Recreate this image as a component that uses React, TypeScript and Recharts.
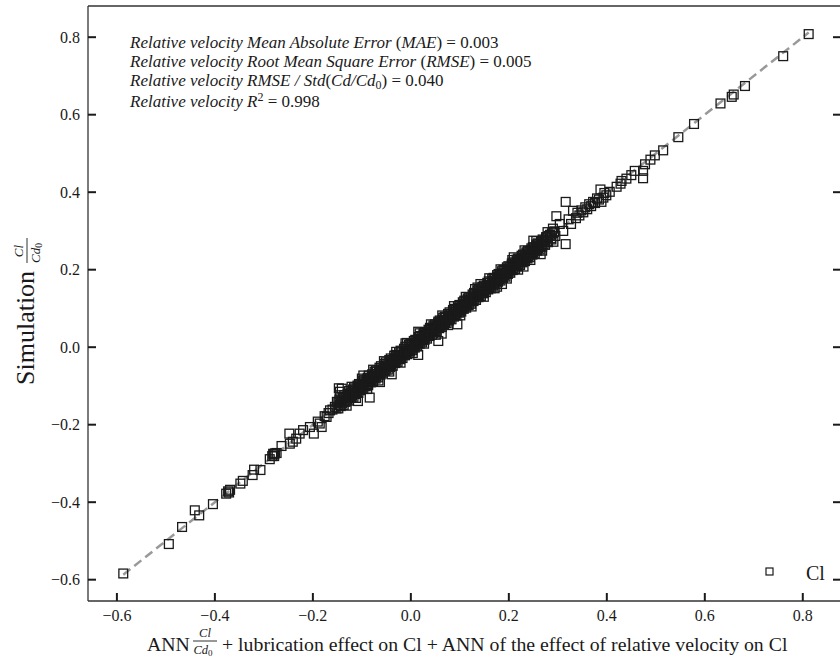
import React from 'react';
import { ScatterChart, Scatter, XAxis, YAxis, ReferenceLine } from 'recharts';

const SERIF = '"Liberation Serif", "Times New Roman", Times, serif';
const INK = '#1a1a1a';

// axis setup
const xTicks = [-0.6, -0.4, -0.2, 0.0, 0.2, 0.4, 0.6, 0.8];
const yTicks = [-0.6, -0.4, -0.2, 0.0, 0.2, 0.4, 0.6, 0.8];
const xDomain = [-0.659, 0.878];
const yDomain = [-0.655, 0.8805];

// ends of the dashed y = x reference
const identityEnds = [-0.587, 0.812];

// sparse points below the dense band: [ANN, simulation]
const lowerTail: [number, number][] = [
  [-0.587, -0.584], [-0.494, -0.508], [-0.467, -0.464], [-0.441, -0.421], [-0.432, -0.434],
  [-0.404, -0.405], [-0.377, -0.378], [-0.373, -0.372], [-0.369, -0.368], [-0.371, -0.375],
  [-0.348, -0.352], [-0.343, -0.345], [-0.323, -0.330], [-0.320, -0.316], [-0.307, -0.317],
  [-0.288, -0.289], [-0.283, -0.281], [-0.280, -0.277], [-0.277, -0.274], [-0.279, -0.281],
  [-0.274, -0.273], [-0.281, -0.275], [-0.264, -0.255], [-0.248, -0.223], [-0.247, -0.249],
  [-0.241, -0.244], [-0.234, -0.236], [-0.227, -0.223], [-0.220, -0.214], [-0.206, -0.206],
  [-0.198, -0.223], [-0.190, -0.192], [-0.186, -0.197], [-0.182, -0.206], [-0.176, -0.178],
  [-0.172, -0.180], [-0.168, -0.170], [-0.165, -0.163], [-0.160, -0.161], [-0.155, -0.154],
  [-0.152, -0.158], [-0.147, -0.106], [-0.141, -0.107], [-0.145, -0.115],
];

// dense band, upper edge
const bandUpper: [number, number][] = [
  [-0.151, -0.141], [-0.146, -0.135], [-0.139, -0.130], [-0.136, -0.124], [-0.129, -0.121],
  [-0.126, -0.113], [-0.118, -0.109], [-0.116, -0.104], [-0.109, -0.099], [-0.106, -0.095],
  [-0.099, -0.088], [-0.096, -0.085], [-0.088, -0.079], [-0.086, -0.073], [-0.079, -0.070],
  [-0.074, -0.063], [-0.071, -0.060], [-0.064, -0.053], [-0.061, -0.049], [-0.054, -0.043],
  [-0.051, -0.039], [-0.044, -0.033], [-0.041, -0.029], [-0.034, -0.022], [-0.031, -0.020],
  [-0.024, -0.013], [-0.021, -0.009], [-0.014, -0.004], [-0.011, 0.001], [-0.004, 0.006],
  [-0.001, 0.009], [0.006, 0.016], [0.009, 0.019], [0.016, 0.026], [0.019, 0.029],
  [0.026, 0.036], [0.029, 0.039], [0.036, 0.045], [0.039, 0.050], [0.046, 0.056],
  [0.049, 0.059], [0.056, 0.066], [0.059, 0.069], [0.066, 0.076], [0.069, 0.079],
  [0.076, 0.086], [0.079, 0.090], [0.086, 0.096], [0.089, 0.099], [0.096, 0.106],
  [0.099, 0.109], [0.106, 0.116], [0.109, 0.120], [0.116, 0.126], [0.119, 0.129],
  [0.126, 0.136], [0.129, 0.140], [0.136, 0.146], [0.139, 0.149], [0.146, 0.156],
  [0.149, 0.159], [0.156, 0.166], [0.159, 0.170], [0.166, 0.176], [0.169, 0.179],
  [0.176, 0.186], [0.179, 0.189], [0.186, 0.196], [0.189, 0.200], [0.196, 0.206],
  [0.199, 0.209], [0.206, 0.216], [0.209, 0.219], [0.216, 0.226], [0.219, 0.229],
  [0.226, 0.236], [0.229, 0.239], [0.236, 0.245], [0.239, 0.249], [0.246, 0.255],
  [0.249, 0.258], [0.256, 0.265], [0.259, 0.268], [0.266, 0.274], [0.269, 0.278],
  [0.276, 0.284], [0.281, 0.287], [0.288, 0.294], [0.293, 0.299],
];

// dense band, just above the middle
const bandUpperInner: [number, number][] = [
  [-0.148, -0.143], [-0.142, -0.138], [-0.138, -0.132], [-0.133, -0.129], [-0.128, -0.123],
  [-0.123, -0.119], [-0.119, -0.113], [-0.114, -0.109], [-0.108, -0.104], [-0.104, -0.098],
  [-0.098, -0.094], [-0.093, -0.089], [-0.089, -0.083], [-0.084, -0.079], [-0.078, -0.074],
  [-0.073, -0.069], [-0.069, -0.063], [-0.063, -0.059], [-0.058, -0.054], [-0.054, -0.048],
  [-0.048, -0.044], [-0.043, -0.039], [-0.039, -0.033], [-0.034, -0.029], [-0.028, -0.024],
  [-0.023, -0.019], [-0.019, -0.013], [-0.013, -0.009], [-0.008, -0.004], [-0.004, 0.002],
  [0.002, 0.006], [0.007, 0.011], [0.011, 0.017], [0.017, 0.021], [0.022, 0.026],
  [0.026, 0.032], [0.032, 0.036], [0.037, 0.041], [0.041, 0.047], [0.047, 0.051],
  [0.052, 0.056], [0.056, 0.062], [0.062, 0.066], [0.067, 0.071], [0.071, 0.077],
  [0.077, 0.081], [0.082, 0.086], [0.086, 0.092], [0.092, 0.096], [0.097, 0.101],
  [0.101, 0.107], [0.107, 0.111], [0.112, 0.116], [0.116, 0.122], [0.122, 0.126],
  [0.127, 0.131], [0.131, 0.137], [0.137, 0.141], [0.142, 0.146], [0.146, 0.152],
  [0.152, 0.156], [0.157, 0.161], [0.161, 0.167], [0.167, 0.171], [0.172, 0.176],
  [0.176, 0.182], [0.182, 0.186], [0.187, 0.191], [0.191, 0.197], [0.197, 0.201],
  [0.202, 0.206], [0.206, 0.212], [0.212, 0.216], [0.217, 0.221], [0.221, 0.227],
  [0.227, 0.231], [0.232, 0.236], [0.236, 0.242], [0.242, 0.246], [0.247, 0.251],
  [0.251, 0.257], [0.257, 0.261], [0.262, 0.266], [0.266, 0.272], [0.272, 0.276],
  [0.278, 0.283], [0.284, 0.290],
];

// dense band, middle
const bandMiddle: [number, number][] = [
  [-0.124, -0.126], [-0.118, -0.117], [-0.111, -0.113], [-0.104, -0.103], [-0.098, -0.099],
  [-0.091, -0.090], [-0.085, -0.086], [-0.078, -0.077], [-0.072, -0.074], [-0.065, -0.064],
  [-0.059, -0.061], [-0.052, -0.051], [-0.046, -0.048], [-0.039, -0.038], [-0.033, -0.035],
  [-0.026, -0.025], [-0.020, -0.022], [-0.013, -0.012], [-0.007, -0.009], [0.000, 0.001],
  [0.007, 0.005], [0.013, 0.014], [0.020, 0.018], [0.026, 0.027], [0.033, 0.031],
  [0.039, 0.040], [0.046, 0.044], [0.052, 0.053], [0.059, 0.057], [0.065, 0.066],
  [0.072, 0.070], [0.078, 0.079], [0.085, 0.083], [0.091, 0.092], [0.098, 0.096],
  [0.104, 0.105], [0.111, 0.109], [0.117, 0.118], [0.124, 0.122], [0.130, 0.131],
  [0.137, 0.135], [0.143, 0.144], [0.150, 0.148], [0.156, 0.157], [0.163, 0.161],
  [0.169, 0.170], [0.176, 0.174], [0.182, 0.183], [0.189, 0.187], [0.195, 0.196],
  [0.202, 0.200], [0.208, 0.209], [0.215, 0.213], [0.221, 0.222], [0.228, 0.226],
  [0.234, 0.235], [0.241, 0.239], [0.247, 0.248], [0.254, 0.252], [0.260, 0.261],
  [0.267, 0.265],
];

// dense band, just below the middle
const bandLowerInner: [number, number][] = [
  [-0.145, -0.149], [-0.140, -0.145], [-0.135, -0.139], [-0.130, -0.135], [-0.125, -0.129],
  [-0.120, -0.125], [-0.115, -0.119], [-0.110, -0.115], [-0.105, -0.109], [-0.100, -0.105],
  [-0.095, -0.099], [-0.090, -0.095], [-0.085, -0.089], [-0.080, -0.085], [-0.075, -0.079],
  [-0.070, -0.075], [-0.065, -0.069], [-0.060, -0.065], [-0.055, -0.059], [-0.050, -0.055],
  [-0.045, -0.049], [-0.040, -0.045], [-0.035, -0.039], [-0.030, -0.035], [-0.025, -0.029],
  [-0.020, -0.025], [-0.015, -0.019], [-0.010, -0.015], [-0.005, -0.009], [0.000, -0.005],
  [0.005, 0.001], [0.010, 0.005], [0.015, 0.011], [0.020, 0.015], [0.025, 0.021],
  [0.030, 0.025], [0.035, 0.031], [0.040, 0.035], [0.045, 0.041], [0.050, 0.045],
  [0.055, 0.051], [0.060, 0.055], [0.065, 0.061], [0.070, 0.065], [0.075, 0.071],
  [0.080, 0.075], [0.085, 0.081], [0.090, 0.085], [0.095, 0.091], [0.100, 0.095],
  [0.105, 0.101], [0.110, 0.105], [0.115, 0.111], [0.120, 0.115], [0.125, 0.121],
  [0.130, 0.125], [0.135, 0.131], [0.140, 0.135], [0.145, 0.141], [0.150, 0.145],
  [0.155, 0.151], [0.160, 0.155], [0.165, 0.161], [0.170, 0.165], [0.175, 0.171],
  [0.180, 0.175], [0.185, 0.181], [0.190, 0.185], [0.195, 0.191], [0.200, 0.195],
  [0.205, 0.201], [0.210, 0.205], [0.215, 0.211], [0.220, 0.215], [0.225, 0.221],
  [0.230, 0.225], [0.235, 0.231], [0.240, 0.235], [0.245, 0.241], [0.250, 0.245],
  [0.255, 0.251], [0.260, 0.255], [0.265, 0.261], [0.271, 0.266], [0.278, 0.273],
  [0.286, 0.281],
];

// dense band, lower edge
const bandLower: [number, number][] = [
  [-0.148, -0.158], [-0.143, -0.152], [-0.137, -0.149], [-0.133, -0.141], [-0.127, -0.138],
  [-0.122, -0.131], [-0.117, -0.128], [-0.112, -0.121], [-0.107, -0.118], [-0.102, -0.111],
  [-0.097, -0.108], [-0.092, -0.101], [-0.087, -0.098], [-0.082, -0.091], [-0.077, -0.088],
  [-0.072, -0.081], [-0.067, -0.078], [-0.062, -0.071], [-0.057, -0.068], [-0.052, -0.061],
  [-0.047, -0.058], [-0.042, -0.051], [-0.037, -0.048], [-0.032, -0.041], [-0.027, -0.038],
  [-0.022, -0.031], [-0.017, -0.028], [-0.012, -0.021], [-0.007, -0.018], [-0.002, -0.011],
  [0.003, -0.008], [0.008, -0.001], [0.013, 0.002], [0.018, 0.009], [0.023, 0.012],
  [0.028, 0.019], [0.033, 0.022], [0.038, 0.029], [0.043, 0.032], [0.048, 0.039],
  [0.053, 0.042], [0.058, 0.049], [0.063, 0.052], [0.068, 0.059], [0.073, 0.062],
  [0.078, 0.069], [0.083, 0.072], [0.088, 0.079], [0.093, 0.082], [0.098, 0.089],
  [0.103, 0.092], [0.108, 0.099], [0.113, 0.102], [0.118, 0.109], [0.123, 0.112],
  [0.128, 0.119], [0.133, 0.122], [0.138, 0.129], [0.143, 0.132], [0.148, 0.139],
  [0.153, 0.142], [0.158, 0.149], [0.163, 0.152], [0.168, 0.159], [0.173, 0.162],
  [0.178, 0.169], [0.183, 0.172], [0.188, 0.179], [0.193, 0.182], [0.198, 0.189],
  [0.203, 0.192], [0.208, 0.199], [0.213, 0.202], [0.218, 0.209], [0.223, 0.212],
  [0.228, 0.219], [0.233, 0.222], [0.238, 0.229], [0.243, 0.232], [0.248, 0.239],
  [0.253, 0.242], [0.258, 0.249], [0.263, 0.252], [0.268, 0.259], [0.274, 0.264],
  [0.280, 0.271], [0.287, 0.278], [0.295, 0.287],
];

// loose points along both edges of the band
const bandFringe: [number, number][] = [
  [-0.144, -0.124], [-0.131, -0.151], [-0.121, -0.102], [-0.112, -0.131], [-0.100, -0.081],
  [-0.089, -0.108], [-0.077, -0.058], [-0.066, -0.086], [-0.055, -0.036], [-0.044, -0.063],
  [-0.030, -0.012], [-0.021, -0.040], [-0.008, 0.011], [0.004, -0.015], [0.018, 0.036],
  [0.027, 0.009], [0.041, 0.059], [0.051, 0.032], [0.064, 0.082], [0.076, 0.057],
  [0.088, 0.106], [0.101, 0.082], [0.112, 0.130], [0.124, 0.105], [0.136, 0.154],
  [0.149, 0.130], [0.160, 0.178], [0.171, 0.152], [0.183, 0.201], [0.196, 0.177],
  [0.207, 0.225], [0.219, 0.200], [0.232, 0.250], [0.244, 0.225], [0.256, 0.274],
  [0.268, 0.249], [0.279, 0.297], [0.291, 0.272], [0.304, 0.318], [0.311, 0.300],
  [0.322, 0.330], [0.327, 0.318],
];

// scattered points off the band
const bandOutliers: [number, number][] = [
  [0.095, 0.059], [0.063, 0.035], [0.056, 0.016], [0.015, 0.040], [0.015, -0.020],
  [-0.011, 0.010], [-0.039, -0.070], [-0.063, -0.090], [-0.097, -0.073], [-0.084, -0.130],
  [-0.108, -0.139], [0.176, 0.156], [0.186, 0.163], [0.131, 0.150], [0.142, 0.163],
  [0.250, 0.275], [0.265, 0.240], [0.210, 0.232], [0.230, 0.208],
];

// sparse points above the dense band
const upperTail: [number, number][] = [
  [0.812, 0.808], [0.760, 0.751], [0.682, 0.674], [0.659, 0.652], [0.655, 0.646],
  [0.632, 0.629], [0.578, 0.576], [0.546, 0.542], [0.515, 0.508], [0.498, 0.495],
  [0.489, 0.484], [0.478, 0.472], [0.474, 0.455], [0.474, 0.436], [0.457, 0.455],
  [0.450, 0.444], [0.440, 0.435], [0.430, 0.429], [0.428, 0.422], [0.420, 0.414],
  [0.406, 0.401], [0.399, 0.392], [0.393, 0.386], [0.389, 0.375], [0.387, 0.407],
  [0.395, 0.398], [0.384, 0.381], [0.380, 0.384], [0.376, 0.372], [0.372, 0.375],
  [0.368, 0.364], [0.364, 0.369], [0.360, 0.356], [0.356, 0.361], [0.352, 0.348],
  [0.348, 0.353], [0.344, 0.340], [0.340, 0.347], [0.337, 0.333], [0.331, 0.352],
  [0.316, 0.375], [0.297, 0.338], [0.316, 0.266], [0.290, 0.306], [0.292, 0.297],
];

const clData = [
  ...lowerTail, ...bandUpper, ...bandUpperInner, ...bandMiddle, ...bandLowerInner,
  ...bandLower, ...bandFringe, ...bandOutliers, ...upperTail,
].map(([x, y]) => ({ x, y }));
const identityData = identityEnds.map((v) => ({ x: v, y: v }));

const fmt = (v: number) => v.toFixed(1).replace('-', '\u2212');

const BottomTick = (props: any) => {
  const { x, y, payload } = props;
  return (
    <g>
      <line x1={x} y1={y} x2={x} y2={y - 8} stroke={INK} strokeWidth={2} />
      <text x={x} y={y + 20} textAnchor="middle" fontSize={16} fontFamily={SERIF} fill={INK}>
        {fmt(payload.value)}
      </text>
    </g>
  );
};

const LeftTick = (props: any) => {
  const { x, y, payload } = props;
  return (
    <g>
      <line x1={x} y1={y} x2={x + 8} y2={y} stroke={INK} strokeWidth={2} />
      <text x={x - 8} y={y + 5.5} textAnchor="end" fontSize={16} fontFamily={SERIF} fill={INK}>
        {fmt(payload.value)}
      </text>
    </g>
  );
};

const RightTick = (props: any) => {
  const { x, y } = props;
  return <line x1={x} y1={y} x2={x - 8} y2={y} stroke={INK} strokeWidth={2} />;
};

const Square = (props: any) => {
  const { cx, cy } = props;
  return <rect x={cx - 4.4} y={cy - 4.4} width={8.8} height={8.8} fill="none" stroke={INK} strokeWidth={1.3} />;
};

export default function App() {
  const it = { fontStyle: 'italic' as const };
  return (
    <div
      style={{
        position: 'fixed', left: 0, top: 0, width: 840, height: 668,
        overflow: 'hidden', background: '#fff', fontFamily: SERIF,
      }}
    >
      <ScatterChart width={850} height={668} margin={{ top: 6, right: 8, bottom: 0, left: 0 }}>
        <XAxis
          type="number"
          dataKey="x"
          domain={xDomain}
          ticks={xTicks}
          allowDataOverflow
          interval={0}
          height={67}
          tickSize={0}
          tickMargin={0}
          tickLine={false}
          axisLine={{ stroke: '#333', strokeWidth: 1.3 }}
          tick={(p: any) => <BottomTick {...p} />}
        />
        <YAxis
          type="number"
          dataKey="y"
          domain={yDomain}
          ticks={yTicks}
          allowDataOverflow
          interval={0}
          width={88}
          tickSize={0}
          tickMargin={0}
          tickLine={false}
          axisLine={{ stroke: '#333', strokeWidth: 1.3 }}
          tick={(p: any) => <LeftTick {...p} />}
        />
        <YAxis
          yAxisId="right"
          orientation="right"
          type="number"
          domain={yDomain}
          ticks={yTicks}
          allowDataOverflow
          interval={0}
          width={1}
          tickSize={0}
          tickMargin={0}
          tickLine={false}
          axisLine={{ stroke: '#333', strokeWidth: 1.3 }}
          tick={(p: any) => <RightTick {...p} />}
        />
        <ReferenceLine y={yDomain[1]} stroke="#333" strokeWidth={1.3} ifOverflow="visible" />
        <Scatter
          data={identityData}
          line={{ stroke: '#999', strokeWidth: 2.5, strokeDasharray: '9 5' }}
          shape={() => <g />}
          isAnimationActive={false}
        />
        <Scatter name="Cl" data={clData} shape={(p: any) => <Square {...p} />} isAnimationActive={false} />
      </ScatterChart>

      <svg width={840} height={668} style={{ position: 'absolute', left: 0, top: 0, pointerEvents: 'none' }}>
        <g fontFamily={SERIF} fontSize={17} fill={INK}>
          <text x={130} y={48}>
            <tspan {...it}>Relative velocity Mean Absolute Error</tspan>
            <tspan> (</tspan>
            <tspan {...it}>MAE</tspan>
            <tspan>) = 0.003</tspan>
          </text>
          <text x={130} y={67}>
            <tspan {...it}>Relative velocity Root Mean Square Error</tspan>
            <tspan> (</tspan>
            <tspan {...it}>RMSE</tspan>
            <tspan>) = 0.005</tspan>
          </text>
          <text x={130} y={86}>
            <tspan {...it}>Relative velocity RMSE / Std</tspan>
            <tspan>(</tspan>
            <tspan {...it}>Cd/Cd</tspan>
            <tspan fontSize={12} dy={3}>0</tspan>
            <tspan dy={-3}>) = 0.040</tspan>
          </text>
          <text x={130} y={107}>
            <tspan {...it}>Relative velocity R</tspan>
            <tspan fontSize={12} dy={-6}>2</tspan>
            <tspan dy={6}> = 0.998</tspan>
          </text>
        </g>

        {/* x axis title */}
        <g fontFamily={SERIF} fill={INK}>
          <text x={147} y={651} fontSize={19.8}>ANN</text>
          <text x={205} y={637} fontSize={12.5} textAnchor="middle" fontStyle="italic">Cl</text>
          <line x1={193} y1={641} x2={217} y2={641} stroke={INK} strokeWidth={0.9} />
          <text x={203} y={654} fontSize={12.5} textAnchor="middle">
            <tspan fontStyle="italic">Cd</tspan>
            <tspan fontSize={9} dy={2}>0</tspan>
          </text>
          <text x={222} y={651} fontSize={19.8}>
            + lubrication effect on Cl + ANN of the effect of relative velocity on Cl
          </text>
        </g>

        {/* y axis title */}
        <g fontFamily={SERIF} fill={INK} transform="translate(34,312) rotate(-90)">
          <text x={-73} y={0} fontSize={26}>Simulation</text>
          <text x={61} y={-11} fontSize={13} textAnchor="middle" fontStyle="italic">Cl</text>
          <line x1={49} y1={-7} x2={74} y2={-7} stroke={INK} strokeWidth={0.9} />
          <text x={59} y={6} fontSize={13} textAnchor="middle">
            <tspan fontStyle="italic">Cd</tspan>
            <tspan fontSize={9.5} dy={2}>0</tspan>
          </text>
        </g>

        {/* legend */}
        <rect x={766} y={568} width={7} height={7} fill="none" stroke={INK} strokeWidth={1.2} />
        <text x={806} y={580} fontSize={20} fontFamily={SERIF} fill={INK}>Cl</text>
      </svg>
    </div>
  );
}
